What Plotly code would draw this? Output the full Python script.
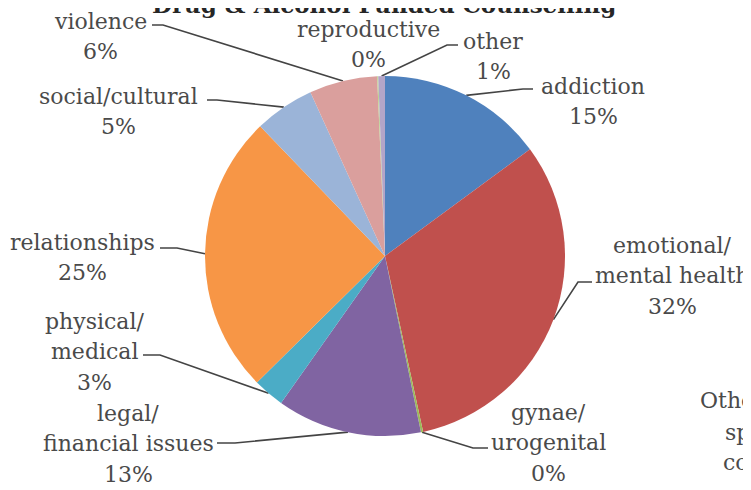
import math
import plotly.graph_objects as go

# ---- data ----
categories = ["addiction", "emotional/<br>mental health", "gynae/<br>urogenital",
              "legal/<br>financial issues", "physical/<br>medical", "relationships",
              "social/cultural", "violence", "reproductive", "other"]
values = [14.9, 31.7, 0.2, 13.0, 2.8, 25.2, 5.4, 6.1, 0.1, 0.6]
colors = ["#4F81BD", "#C0504D", "#9BBB59", "#8064A2", "#4BACC6", "#F79646",
          "#9BB4D8", "#DA9F9D", "#BBD18F", "#B3A5C8"]
title_text = "Drug & Alcohol Funded Counselling"

# ---- layout constants (pixels of the target picture) ----
W, H = 751, 490
OFF = 8                      # page body margin
CX, CY, R = 385, 256, 180
LINE = 30.5
# label centre x, first-line y, leader elbow, tick end (None = no leader)
label_layout = [
    ((593, 86), (523, 89), (533, 89)),
    ((672, 245), (578, 282), (592, 282)),
    ((548, 412), (473, 448), (488, 448)),
    ((128, 413), (235, 443), (217, 443)),
    ((94, 321), (160, 355), (143, 355)),
    ((82, 242), (177, 248), (160, 248)),
    ((118, 96), (217, 100), (207, 100)),
    ((100, 21), (163, 25), (152, 25)),
    ((368, 29), None, None),
    ((493, 41), (447, 45), (458, 45)),
]

LABEL_FONT = dict(family="DejaVu Serif", size=22, color="#4a4a4a")

fig = go.Figure()
fig.add_trace(go.Pie(
    labels=categories, values=values, sort=False, direction="clockwise", rotation=0,
    marker=dict(colors=colors, line=dict(width=0)), textinfo="none", hoverinfo="label+percent",
    showlegend=False,
    domain=dict(x=[(CX - OFF - R) / W, (CX - OFF + R) / W],
                y=[1 - (CY - OFF + R) / H, 1 - (CY - OFF - R) / H]),
))

total = sum(values)
cum = 0.0
annotations = []
for cat, v, (lab, elbow, tick) in zip(categories, values, label_layout):
    mid = (cum + v / 2) / total * 2 * math.pi
    cum += v
    pct = round(v / total * 100)
    lines = cat.split("<br>") + [f"{pct}%"]
    for i, ln in enumerate(lines):
        annotations.append(dict(x=lab[0], y=lab[1] + i * LINE, xref="x", yref="y", text=ln,
                                showarrow=False, xanchor="center", yanchor="middle",
                                font=LABEL_FONT))
    if elbow is None:
        continue
    ex = CX + R * math.sin(mid)
    ey = CY - R * math.cos(mid)
    fig.add_trace(go.Scatter(x=[ex, elbow[0], tick[0]], y=[ey, elbow[1], tick[1]], mode="lines",
                             line=dict(color="#444444", width=1.6), hoverinfo="skip",
                             showlegend=False))

# title (partially cut at top)
annotations.append(dict(x=(384 - OFF) / W, y=1 - (5 - OFF) / H, xref="paper", yref="paper",
                        text=f"<b>{title_text}</b>", showarrow=False,
                        xanchor="center", yanchor="middle",
                        font=dict(family="DejaVu Serif", size=23, color="#262626")))
# fragments of neighbouring chart at right edge
for txt, x, y in [("(", 741, 137), ("Other", 698, 400), ("specialist", 723, 432), ("counselling", 721, 462)]:
    annotations.append(dict(x=x, y=y, xref="x", yref="y", text=txt, showarrow=False,
                            xanchor="left", yanchor="middle", font=LABEL_FONT))

fig.update_layout(
    width=W, height=H, margin=dict(l=0, r=0, t=0, b=0),
    paper_bgcolor="white", plot_bgcolor="rgba(0,0,0,0)",
    xaxis=dict(range=[OFF, W + OFF], visible=False, fixedrange=True),
    yaxis=dict(range=[H + OFF, OFF], visible=False, fixedrange=True),
    annotations=annotations,
)
fig.write_html("out.html")
